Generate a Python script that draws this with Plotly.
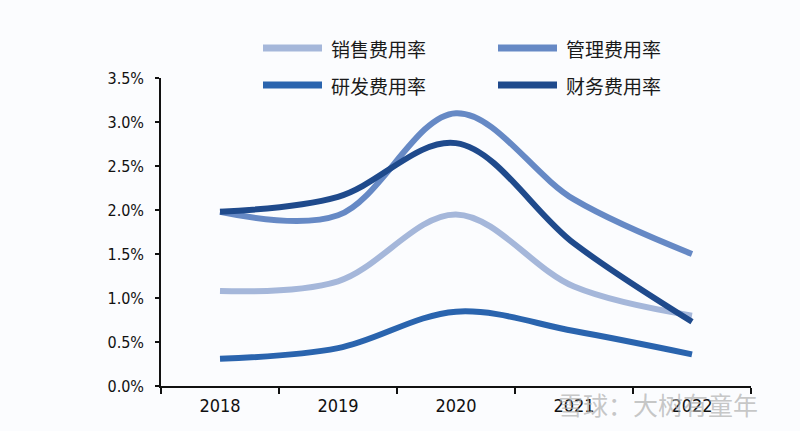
import plotly.graph_objects as go

years = ["2018", "2019", "2020", "2021", "2022"]
series_names = ["销售费用率", "管理费用率", "研发费用率", "财务费用率"]
sales = [1.08, 1.19, 1.95, 1.13, 0.80]
admin = [1.98, 1.94, 3.10, 2.12, 1.50]
rnd = [0.31, 0.43, 0.845, 0.625, 0.36]
finance = [1.98, 2.15, 2.76, 1.62, 0.73]
y_ticks = [0, 0.5, 1.0, 1.5, 2.0, 2.5, 3.0, 3.5]
y_ticktext = ["0.0%", "0.5%", "1.0%", "1.5%", "2.0%", "2.5%", "3.0%", "3.5%"]
colors = ["#A5B7DA", "#6689C5", "#2A64AE", "#1F4A8C"]
values = [sales, admin, rnd, finance]

W, H = 800, 431
L, R, T, B = 161, 49, 78, 45
pw, ph = W - L - R, H - T - B

def px(x):
    return (x - L) / pw

def py(y):
    return (H - B - y) / ph

fig = go.Figure()
for i in range(4):
    fig.add_trace(go.Scatter(
        x=years, y=values[i], name=series_names[i], mode="lines",
        line=dict(color=colors[i], width=6, shape="spline", smoothing=1.0),
        showlegend=False,
    ))

# custom legend (2 x 2)
leg_pos = [(263, 48), (498, 48), (263, 85), (498, 85)]
for i, (lx, ly) in enumerate(leg_pos):
    fig.add_shape(type="line", xref="paper", yref="paper",
                  x0=px(lx), x1=px(lx + 59), y0=py(ly), y1=py(ly),
                  line=dict(color=colors[i], width=7))
    fig.add_annotation(xref="paper", yref="paper", x=px(lx + 66), y=py(ly),
                       text=series_names[i], showarrow=False,
                       xanchor="left", yanchor="middle",
                       font=dict(size=19, color="#1a1a1a",
                                 family="Noto Sans CJK SC"))

# watermark
fig.add_annotation(xref="paper", yref="paper", x=px(556), y=py(404),
                   text="雪球：大树有童年", showarrow=False,
                   xanchor="left", yanchor="middle",
                   font=dict(size=25, color="rgba(175,175,175,0.7)",
                             family="Noto Sans CJK SC"))

fig.update_layout(
    width=W, height=H,
    margin=dict(l=L, r=R, t=T, b=B, autoexpand=False),
    paper_bgcolor="#FBFCFE", plot_bgcolor="#FBFCFE",
    hovermode=False,
    xaxis=dict(
        type="category", tickson="boundaries", range=[-0.5, 4.5],
        showline=True, linecolor="#111", linewidth=1.5,
        ticks="outside", ticklen=6, tickcolor="#111", tickwidth=1.5,
        showgrid=False, zeroline=False, automargin=False,
        ticklabelstandoff=3,
        tickfont=dict(size=18, color="#111",
                      family="Liberation Sans Narrow, DejaVu Sans Condensed, Arial"),
    ),
    yaxis=dict(
        range=[0, 3.5], tickvals=y_ticks, ticktext=y_ticktext,
        showline=True, linecolor="#111", linewidth=1.5,
        ticks="outside", ticklen=4, tickcolor="#111", tickwidth=1.5,
        showgrid=False, zeroline=False, automargin=False,
        ticklabelstandoff=8,
        tickfont=dict(size=16, color="#111",
                      family="Liberation Sans Narrow, DejaVu Sans Condensed, Arial"),
    ),
)

fig.write_html("out.html", config={"displayModeBar": False},
               post_script="document.body.style.margin='0';document.body.style.padding='0';")
